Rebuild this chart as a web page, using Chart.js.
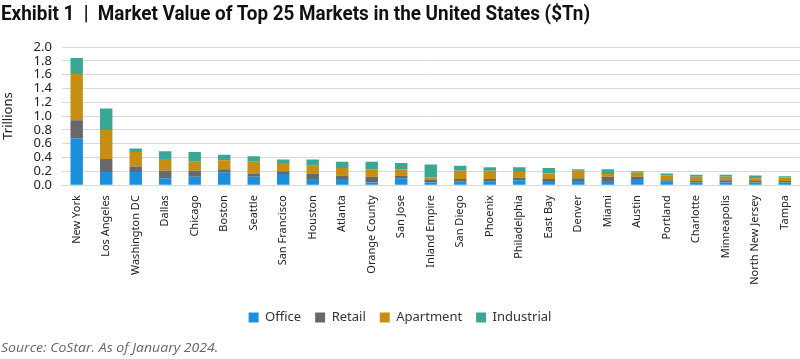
<!DOCTYPE html>
<html>
<head>
<meta charset="utf-8">
<script src="https://cdn.jsdelivr.net/npm/chart.js@4.4.1/dist/chart.umd.min.js"></script>
<style>
  html, body { margin: 0; padding: 0; background: #fff; }
  #wrap { position: relative; width: 800px; height: 359px; overflow: hidden; }
  #title { position: absolute; left: 1px; top: 1px; font-family: "Roboto", sans-serif; font-weight: bold; font-size: 20px; color: #111; white-space: nowrap; transform-origin: 0 0; }
  #source { position: absolute; left: 1px; top: 339px; font-family: "Open Sans", "Noto Sans", sans-serif; font-style: italic; font-size: 12.5px; color: #666; white-space: nowrap; transform-origin: 0 0; }
  #cv { position: absolute; left: 0; top: 0; }
</style>
</head>
<body>
<div id="wrap">
  <canvas id="cv" width="800" height="359"></canvas>
  <div id="title">Exhibit 1 &nbsp;|&nbsp; Market Value of Top 25 Markets in the United States ($Tn)</div>
  <div id="source">Source: CoStar. As of January 2024.</div>
</div>
<script>
const categories = ["New York","Los Angeles","Washington DC","Dallas","Chicago","Boston","Seattle","San Francisco","Houston","Atlanta","Orange County","San Jose","Inland Empire","San Diego","Phoenix","Philadelphia","East Bay","Denver","Miami","Austin","Portland","Charlotte","Minneapolis","North New Jersey","Tampa"];
const office     = [0.68,0.19,0.19,0.10,0.12,0.18,0.12,0.16,0.09,0.09,0.04,0.10,0.04,0.05,0.05,0.07,0.06,0.06,0.06,0.09,0.05,0.04,0.04,0.04,0.04];
const retail     = [0.26,0.19,0.08,0.11,0.09,0.05,0.05,0.04,0.08,0.05,0.08,0.04,0.04,0.04,0.04,0.04,0.03,0.04,0.06,0.03,0.02,0.02,0.03,0.02,0.02];
const apartment  = [0.67,0.42,0.21,0.17,0.13,0.13,0.17,0.12,0.11,0.11,0.11,0.09,0.03,0.12,0.12,0.08,0.08,0.11,0.04,0.06,0.07,0.06,0.05,0.04,0.05];
const industrial = [0.23,0.31,0.05,0.11,0.14,0.08,0.08,0.05,0.09,0.09,0.11,0.09,0.19,0.07,0.05,0.07,0.08,0.02,0.07,0.02,0.03,0.03,0.03,0.04,0.02];
const yTicks = [0,0.2,0.4,0.6,0.8,1.0,1.2,1.4,1.6,1.8,2.0];

const colors = { office: "#1a8fdb", retail: "#686868", apartment: "#c68f12", industrial: "#3aa794" };

function fitWidth(id, w) {
  const el = document.getElementById(id);
  const s = w / el.offsetWidth;
  el.style.transform = "scaleX(" + s + ")";
}
fitWidth("title", 589);
fitWidth("source", 217);

function ds(label, data, color) {
  return { label, data, backgroundColor: color, borderWidth: 0, categoryPercentage: 1.0, barPercentage: 0.42, stack: "s" };
}

new Chart(document.getElementById("cv"), {
  type: "bar",
  data: {
    labels: categories,
    datasets: [
      ds("Office", office, colors.office),
      ds("Retail", retail, colors.retail),
      ds("Apartment", apartment, colors.apartment),
      ds("Industrial", industrial, colors.industrial)
    ]
  },
  options: {
    responsive: false,
    animation: false,
    devicePixelRatio: 1,
    layout: { padding: { left: 0, right: 0, top: 47, bottom: 25 } },
    plugins: {
      legend: {
        position: "bottom",
        labels: {
          boxWidth: 10, boxHeight: 10, padding: 14,
          color: "#333",
          font: { family: "'Noto Sans', 'Open Sans', sans-serif", size: 13 }
        }
      },
      tooltip: { enabled: false }
    },
    scales: {
      x: {
        stacked: true,
        grid: { display: false },
        border: { color: "#d9d9d9" },
        title: { display: true, text: "", font: { size: 1 }, padding: { top: 9, bottom: 0 } },
        ticks: {
          minRotation: 90, maxRotation: 90, autoSkip: false,
          padding: 2,
          color: "#222",
          font: { family: "'Noto Sans', 'Open Sans', sans-serif", size: 11 }
        }
      },
      y: {
        stacked: true,
        min: 0, max: 2.0,
        afterBuildTicks: (s) => { s.ticks = yTicks.map(v => ({ value: v })); },
        grid: { color: "#d9d9d9", drawTicks: false },
        border: { display: false },
        title: { display: true, text: "Trillions", color: "#222", font: { family: "'Noto Sans', 'Open Sans', sans-serif", size: 13 }, padding: { top: 0, bottom: 8 } },
        ticks: {
          autoSkip: false,
          padding: 10,
          color: "#222",
          font: { family: "'Noto Sans', 'Open Sans', sans-serif", size: 13, lineHeight: 1.0 },
          callback: (v) => Number(v).toFixed(1)
        }
      }
    }
  }
});
</script>
</body>
</html>
